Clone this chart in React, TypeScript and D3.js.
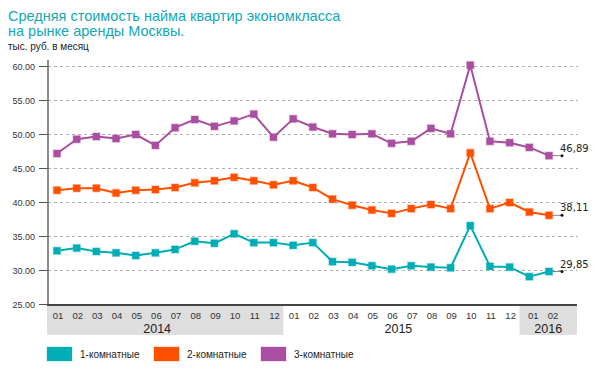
import React from "react";
import * as d3 from "d3";

const months = ["01","02","03","04","05","06","07","08","09","10","11","12","01","02","03","04","05","06","07","08","09","10","11","12","01","02"];
const years = ["2014","2015","2016"];
const yearOfPoint = [0,0,0,0,0,0,0,0,0,0,0,0,1,1,1,1,1,1,1,1,1,1,1,1,2,2];
const yTicks = [25,30,35,40,45,50,55,60];

const room1 = [32.9,33.3,32.8,32.6,32.2,32.6,33.1,34.3,34.0,35.4,34.1,34.1,33.7,34.1,31.3,31.2,30.7,30.2,30.7,30.5,30.4,36.6,30.6,30.5,29.1,29.85];
const room2 = [41.8,42.1,42.1,41.4,41.8,41.9,42.2,42.9,43.2,43.7,43.2,42.6,43.2,42.2,40.5,39.6,38.9,38.4,39.1,39.7,39.1,47.3,39.1,40.0,38.6,38.11];
const room3 = [47.2,49.3,49.7,49.4,50.0,48.4,51.0,52.2,51.2,52.0,53.0,49.6,52.3,51.1,50.1,50.0,50.1,48.7,49.0,50.9,50.1,60.2,49.0,48.8,48.1,46.89];

const seriesNames = ["1-комнатные","2-комнатные","3-комнатные"];
const seriesColors = ["#00adb5","#ff5000","#a94ea0"];
const seriesData = [room1, room2, room3];

const titleLines = ["Средняя стоимость найма квартир экономкласса","на рынке аренды Москвы."];
const unitLabel = "тыс. руб. в месяц";

export default function App() {
  const W = 600, H = 376;
  const idx = months.map((_, i) => i);
  const x = d3.scalePoint<number>().domain(idx).range([57, 549]);
  const y = d3.scaleLinear().domain([25, 60]).range([304.5, 66.5]);
  const axisLeft = 48;
  const axisRight = 577;
  const axisY = 305;
  const step = x.step();

  const line = d3.line<number>().x((_, i) => x(i)!).y(d => y(d));

  const bands = years.map((yr, k) => {
    const pts = idx.filter(i => yearOfPoint[i] === k);
    const first = pts[0], last = pts[pts.length - 1];
    const x0 = k === 0 ? axisLeft - 1 : x(first)! - step / 2;
    const x1 = k === years.length - 1 ? axisRight : x(last)! + step / 2;
    return { yr, x0, x1, k };
  });

  const font = "'Liberation Sans', Arial, sans-serif";

  return (
    <svg width={W} height={H} style={{ position: "absolute", left: 0, top: 0, background: "#fff" }}>
      <g fontFamily={font}>
        <text x={8} y={20.5} fontSize={14.5} fill="#14a7b6">{titleLines[0]}</text>
        <text x={8} y={35.5} fontSize={14.5} fill="#14a7b6">{titleLines[1]}</text>
        <text x={8} y={49.5} fontSize={10} fill="#222">{unitLabel}</text>

        {yTicks.map(t => (
          <g key={t}>
            {t !== 25 && (
              <line x1={axisLeft} x2={578} y1={y(t)} y2={y(t)} stroke="#b0b0b0" strokeDasharray="3,3" strokeWidth={1} />
            )}
            <line x1={39} x2={axisLeft} y1={y(t)} y2={y(t)} stroke="#555" strokeWidth={1} />
            <text x={35} y={y(t) + 3} fontSize={9} textAnchor="end" fill="#333">{t.toFixed(2)}</text>
          </g>
        ))}

        {bands.map(b => (
          <g key={b.yr}>
            {b.k !== 1 && <rect x={b.x0} y={axisY} width={b.x1 - b.x0} height={30} fill="#dedede" />}
            <text x={(b.x0 + b.x1) / 2 - (b.k === 0 ? 8 : b.k === 1 ? 3 : 0)} y={333} fontSize={12.5} textAnchor="middle" fill="#222">{b.yr}</text>
          </g>
        ))}
        {months.map((m, i) => (
          <text key={i} x={x(i)! + (yearOfPoint[i] === 2 ? 4 : 1)} y={318.5} fontSize={9.5} textAnchor="middle" fill="#333">{m}</text>
        ))}

        <line x1={axisLeft} x2={axisLeft} y1={60} y2={axisY} stroke="#666" strokeWidth={1.5} />
        <line x1={axisLeft - 1} x2={axisRight} y1={axisY} y2={axisY} stroke="#444" strokeWidth={2} />

        {seriesData.map((data, s) => {
          const lastI = data.length - 1;
          const lx = x(lastI)!;
          const ly = y(data[lastI]);
          return (
            <g key={s}>
              <line x1={lx} x2={lx + 13} y1={ly} y2={ly} stroke="#888" strokeWidth={1} />
              <circle cx={lx + 13} cy={ly} r={1.5} fill="#111" />
              <path d={line(data) || ""} fill="none" stroke={seriesColors[s]} strokeWidth={2} strokeLinejoin="round" />
              {data.map((v, i) => (
                <rect key={i} x={x(i)! - 3.5} y={y(v) - 3.5} width={7} height={7} fill={seriesColors[s]} stroke={seriesColors[s]} strokeOpacity={0.35} strokeWidth={1.5} />
              ))}
              <text x={lx + 11} y={ly - 4} fontSize={10} fontFamily="'DejaVu Sans', sans-serif" fill="#222">
                {data[lastI].toFixed(2).replace(".", ",")}
              </text>
            </g>
          );
        })}

        {seriesNames.map((n, s) => {
          const lx = 47 + s * 107;
          return (
            <g key={n}>
              <rect x={lx} y={347} width={25} height={14} fill={seriesColors[s]} stroke={seriesColors[s]} strokeOpacity={0.3} strokeWidth={1} />
              <text x={lx + 33} y={357.5} fontSize={10} fill="#222">{n}</text>
            </g>
          );
        })}
      </g>
    </svg>
  );
}
